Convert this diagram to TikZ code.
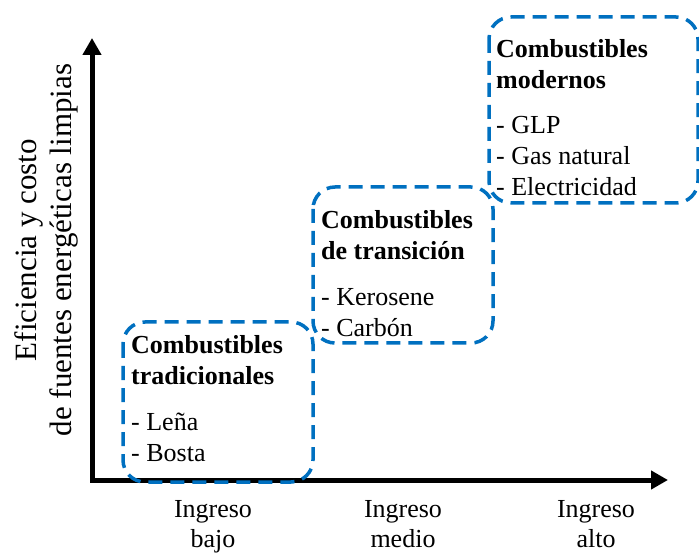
\documentclass[tikz,border=0pt]{standalone}
\usepackage{fontspec}
\setmainfont{Liberation Serif}
\usepackage{xcolor}
\usetikzlibrary{arrows.meta}
\definecolor{azulcaja}{HTML}{0070C0}

\begin{document}
\begin{tikzpicture}[x=1pt, y=-1pt,
  every node/.style={font=\fontsize{26}{31}\selectfont, inner sep=0pt},
  eje/.style={line width=5pt, line cap=rect, -{Triangle[length=17pt,width=18pt]}},
  caja/.style={draw=azulcaja, line width=3.5pt, dash pattern=on 14pt off 8pt, rounded corners=22pt},
  texto/.style={anchor=north west, align=left}]

\useasboundingbox (0,0) rectangle (699,553);

% ejes
\coordinate (origen) at (92,480);
\coordinate (ytope) at (92,38);
\coordinate (xfin) at (668,480);
\draw[eje] (origen) -- (ytope);
\draw[eje] (origen) -- (xfin);

% etiqueta del eje vertical
\node[rotate=90, align=center, font=\fontsize{31}{35}\selectfont] (ylab) at (46,250)
  {Eficiencia y costo\\de fuentes energéticas limpias};

% etiquetas del eje horizontal
\node[anchor=north, align=center, font=\fontsize{26}{30}\selectfont] (bajo) at (213,500) {Ingreso\\bajo};
\node[anchor=north, align=center, font=\fontsize{26}{30}\selectfont] (medio) at (403,500) {Ingreso\\medio};
\node[anchor=north, align=center, font=\fontsize{26}{30}\selectfont] (alto) at (596,500) {Ingreso\\alto};

% cajas
\draw[caja] (123,322) rectangle (313,482);
\draw[caja] (313,187) rectangle (493,343);
\draw[caja] (489,17) rectangle (698,203);

% contenido
\node[texto] (trad) at (131,335)
  {\textbf{Combustibles}\\\textbf{tradicionales}\\[15pt]- Leña\\- Bosta};
\node[texto] (trans) at (321,210)
  {\textbf{Combustibles}\\\textbf{de transición}\\[15pt]- Kerosene\\- Carbón};
\node[texto] (mod) at (496,39)
  {\textbf{Combustibles}\\\textbf{modernos}\\[14pt]- GLP\\- Gas natural\\- Electricidad};

\end{tikzpicture}
\end{document}
